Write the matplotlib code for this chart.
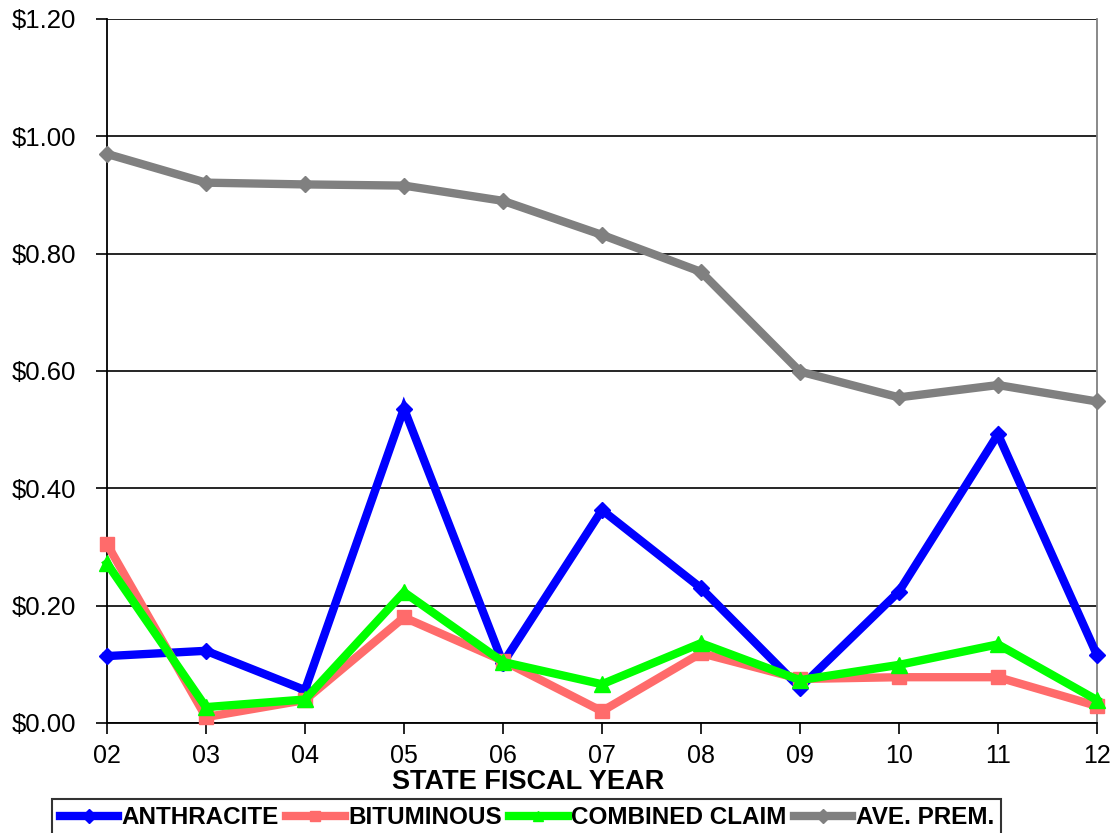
import matplotlib
matplotlib.use("Agg")
import matplotlib.pyplot as plt
from matplotlib.ticker import FuncFormatter

plt.rcParams['font.family'] = ['Liberation Sans', 'DejaVu Sans']

years = ["02", "03", "04", "05", "06", "07", "08", "09", "10", "11", "12"]
anthracite = [0.114, 0.123, 0.056, 0.536, 0.102, 0.363, 0.230, 0.060, 0.224, 0.492, 0.116]
bituminous = [0.305, 0.010, 0.039, 0.180, 0.106, 0.020, 0.119, 0.075, 0.078, 0.078, 0.029]
combined = [0.272, 0.027, 0.040, 0.223, 0.104, 0.066, 0.136, 0.073, 0.099, 0.134, 0.039]
ave_prem = [0.970, 0.921, 0.918, 0.916, 0.890, 0.832, 0.769, 0.599, 0.555, 0.576, 0.548]

series = [
    ("ANTHRACITE", anthracite, "#0000FF", "D", 8),
    ("BITUMINOUS", bituminous, "#FF6B6B", "s", 10),
    ("COMBINED CLAIM", combined, "#00FF00", "^", 11),
    ("AVE. PREM.", ave_prem, "#808080", "D", 8),
]

fig = plt.figure(figsize=(11.14, 8.33), dpi=100)
ax = fig.add_axes([0.0960, 0.1321, 0.8887, 0.8451])

x = list(range(len(years)))
for label, vals, color, marker, ms in series:
    ax.plot(x, vals, color=color, lw=6, marker=marker, markersize=ms,
            markerfacecolor=color, markeredgecolor=color, label=label,
            solid_joinstyle='miter', clip_on=False, zorder=3)

ax.set_xlim(0, len(years) - 1)
ax.set_ylim(0, 1.2)
ax.set_xticks(x)
ax.set_xticklabels(years)
ax.set_yticks([0, 0.2, 0.4, 0.6, 0.8, 1.0, 1.2])
ax.yaxis.set_major_formatter(FuncFormatter(lambda v, p: f"${v:.2f}"))
ax.yaxis.grid(True, color="black", lw=1.2)
ax.set_axisbelow(True)

ax.tick_params(axis='both', direction='out', length=8, width=1.2, color='black',
               labelsize=18)
ax.tick_params(axis='x', pad=7)
ax.tick_params(axis='y', pad=14, labelsize=18.5)

for side in ['left', 'bottom']:
    ax.spines[side].set_color('black')
    ax.spines[side].set_linewidth(1.3)
ax.spines['top'].set_visible(False)
ax.spines['right'].set_color('#808080')
ax.spines['right'].set_linewidth(1.3)

ax.set_xlabel("STATE FISCAL YEAR", fontsize=19.5, fontweight='bold')
ax.xaxis.set_label_coords(0.425, (723 - 782) / 705, transform=ax.transAxes)
ax.xaxis.label.set_va('center')

leg = fig.legend(loc='upper center', bbox_to_anchor=(0.473, 1 - 799 / 833), ncol=4,
                 prop={'weight': 'bold', 'size': 17.5}, frameon=True, fancybox=False,
                 edgecolor='black', handlelength=2.4, handletextpad=0.15,
                 columnspacing=0.3, borderpad=0.3, borderaxespad=0)
leg.get_frame().set_linewidth(1.5)
for h in leg.legend_handles:
    h.set_markersize(7)

fig.savefig("out.png", dpi=100)
